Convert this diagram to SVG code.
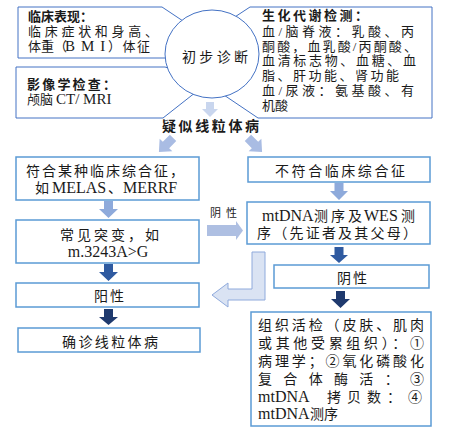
<svg xmlns="http://www.w3.org/2000/svg" width="456" height="432" viewBox="0 0 456 432">
<style>
text,tspan{font-family:"Liberation Serif","Noto Sans CJK SC",serif;fill:#1a1a1a}
.c{font-size:13px}
.b{font-size:14px}
.lat{font-size:16px}
.bold{font-weight:bold}
.box{fill:#fff;stroke:#5b9bd5;stroke-width:1.5}
.call{fill:#fff;stroke:#4472c4;stroke-width:1}
.pale{fill:#c9d6ee}
.lt{fill:#a9bce3}
.md{fill:#8eaadb}
.dk{fill:#2f5aa0}
.nv{fill:#1f3a6e}
</style>
<rect width="456" height="432" fill="#fff"/>
<g id="callout-clinical">
<polygon class="call" points="18,7 162,7 207,37 165,58 18,58"/>
<text class="c bold" x="28" y="21">临床表现：</text>
<text class="c" x="28" y="36" textLength="130" lengthAdjust="spacing">临床症状和身高、</text>
<text class="c" y="51"><tspan x="28">体重（</tspan><tspan x="65" style="font-size:15px;letter-spacing:6px">BMI</tspan><tspan x="108" style="letter-spacing:1.5px">）体征</tspan></text>
</g>
<g id="callout-imaging">
<polygon class="call" points="16,67 165,67 210,81 163,118 16,118"/>
<text class="c bold" x="27" y="89" textLength="89" lengthAdjust="spacing">影像学检查：</text>
<text class="c" y="104"><tspan x="27">颅脑</tspan><tspan x="56" style="font-size:15px">CT/ MRI</tspan></text>
</g>
<g id="callout-biochem">
<polygon class="call" points="250,7 432,7 432,118 258,118 215,89 215,30"/>
<text class="c bold" x="262" y="20" textLength="106" lengthAdjust="spacing">生化代谢检测：</text>
<text class="c" x="262" y="36" textLength="152" lengthAdjust="spacing">血/脑脊液：乳酸、丙</text>
<text class="c" x="262" y="51" textLength="155" lengthAdjust="spacing">酮酸，血乳酸/丙酮酸、</text>
<text class="c" x="262" y="65" textLength="154" lengthAdjust="spacing">血清标志物、血糖、血</text>
<text class="c" x="262" y="80" textLength="137" lengthAdjust="spacing">脂、肝功能、肾功能</text>
<text class="c" x="262" y="95" textLength="152" lengthAdjust="spacing">血/尿液：氨基酸、有</text>
<text class="c" x="262" y="110">机酸</text>
</g>
<g id="initial-diagnosis">
<ellipse class="call" cx="212" cy="54" rx="47" ry="44"/>
<text class="b" x="182" y="62" textLength="66" lengthAdjust="spacing">初步诊断</text>
</g>
<g id="suspected">
<text class="b bold" x="162" y="131" textLength="97" lengthAdjust="spacing">疑似线粒体病</text>
</g>
<g id="box-syndrome">
<rect class="box" x="16" y="157" width="183" height="43"/>
<text class="b" x="26" y="176" textLength="158" lengthAdjust="spacing">符合某种临床综合征，</text>
<text class="b" y="193"><tspan x="35">如</tspan><tspan x="52" style="font-size:16px">MELAS</tspan><tspan x="108">、</tspan><tspan x="123" style="font-size:16px">MERRF</tspan></text>
</g>
<g id="box-nosyndrome">
<rect class="box" x="248" y="157" width="182" height="25"/>
<text class="b" x="275" y="176" textLength="130" lengthAdjust="spacing">不符合临床综合征</text>
</g>
<g id="box-seq">
<rect class="box" x="247" y="202" width="183" height="42"/>
<text class="b" y="221"><tspan x="262" style="font-size:16px">mtDNA</tspan><tspan x="314" style="letter-spacing:3px">测序及</tspan><tspan x="364" style="font-size:16px">WES</tspan><tspan x="401">测</tspan></text>
<text class="b" x="257" y="238" textLength="160" lengthAdjust="spacing">序（先证者及其父母）</text>
</g>
<g id="box-common">
<rect class="box" x="16" y="220" width="183" height="43"/>
<text class="b" x="60" y="240" textLength="99" lengthAdjust="spacing">常见突变，如</text>
<text class="lat" x="108" y="257" text-anchor="middle">m.3243A&gt;G</text>
</g>
<g id="box-positive">
<rect class="box" x="16" y="283" width="183" height="24"/>
<text class="b" x="94" y="301" textLength="30" lengthAdjust="spacing">阳性</text>
</g>
<g id="box-confirmed">
<rect class="box" x="18" y="328" width="182" height="24"/>
<text class="b" x="62" y="347" textLength="96" lengthAdjust="spacing">确诊线粒体病</text>
</g>
<g id="box-negative">
<rect class="box" x="274" y="265" width="155" height="23"/>
<text class="b" x="337" y="283" textLength="30" lengthAdjust="spacing">阴性</text>
</g>
<g id="box-biopsy">
<rect class="box" x="251" y="312" width="180" height="114"/>
<text class="b" x="258" y="330" textLength="166" lengthAdjust="spacing">组织活检（皮肤、肌肉</text>
<text class="b" x="258" y="348" textLength="166" lengthAdjust="spacing">或其他受累组织）：①</text>
<text class="b" x="258" y="366" textLength="166" lengthAdjust="spacing">病理学；②氧化磷酸化</text>
<text class="b" x="258" y="384" textLength="166" lengthAdjust="spacing">复合体酶活：③</text>
<text class="b" y="402"><tspan x="258" style="font-size:16px">mtDNA</tspan><tspan x="327">拷</tspan><tspan x="347">贝</tspan><tspan x="367">数</tspan><tspan x="387">：</tspan><tspan x="408">④</tspan></text>
<text class="b" y="419"><tspan x="258" style="font-size:16px">mtDNA</tspan><tspan x="310">测序</tspan></text>
</g>
<g id="connectors">
<path class="pale" d="M206,102 H214 V109 H218 L210,117 L202,109 H206 Z"/>
<path class="lt" transform="translate(166,145) rotate(45)" d="M-4.5,-10 H4.5 V0 H9 L0,10 L-9,0 H-4.5 Z"/>
<path class="lt" transform="translate(255,145) rotate(-45)" d="M-4.5,-10 H4.5 V0 H9 L0,10 L-9,0 H-4.5 Z"/>
<path class="md" d="M104,201 H113 V209 H118 L108.5,218 L99,209 H104 Z"/>
<path class="md" d="M334.5,183 H343.5 V191 H348 L339,200 L330,191 H334.5 Z"/>
<path class="dk" d="M104,264 H113 V272 H118 L108.5,281 L99,272 H104 Z"/>
<path class="nv" d="M104,309 H113 V317 H118 L108.5,325 L99,317 H104 Z"/>
<path class="dk" d="M334.5,247 H343.5 V255 H348 L339,263 L330,255 H334.5 Z"/>
<path class="nv" d="M336,291 H345 V299 H350 L340.5,308 L331,299 H336 Z"/>
<path fill="#aebfe2" d="M207,225 H236 V221 L243,230.5 L236,240 V236 H207 Z"/>
<text x="210" y="217" style="font-size:11px" textLength="27" lengthAdjust="spacing">阴性</text>
<path fill="#dae3f3" stroke="#8faadc" stroke-width="1" d="M212,295 L228,283 V289 H252 V252 H265 V300 H228 V307 Z"/>
</g>
</svg>
